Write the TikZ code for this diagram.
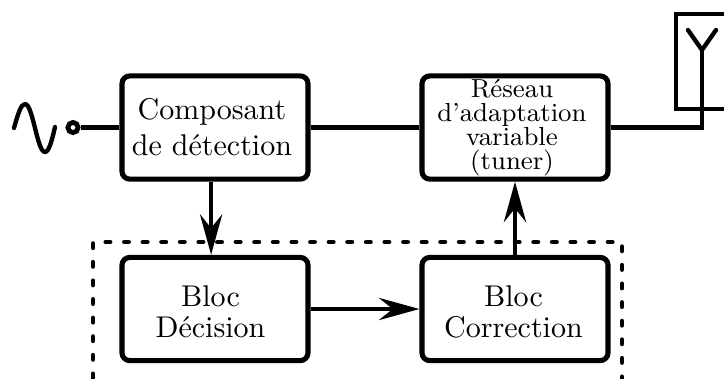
\documentclass[tikz,border=0pt]{standalone}
\usetikzlibrary{arrows.meta}
\newcommand{\recul}[1]{\hspace*{-#1pt}}
\begin{document}
\begin{tikzpicture}[
      x=0.3333pt, y=-0.3333pt,
      line width=1.45pt,
      bloc/.style={draw, line width=1.7pt, rounded corners=2.6pt, align=center, inner sep=0pt,
          minimum width=62pt, minimum height=34.4pt},
      petit/.style={font=\fontsize{8.7}{8}\selectfont},
      serre/.style={font=\fontsize{10}{10.3}\selectfont},
      fleche/.style={-{Stealth[length=13.5pt, width=7.4pt, inset=4.6pt]}},
      port/.style={circle, draw, inner sep=0pt, minimum size=3.4pt, line width=1.6pt}
    ]
    \useasboundingbox (0,0) rectangle (724,378);

    \node[bloc] (composant) at (215,127.5) {\recul{2}Composant\\\recul{2}de détection};
    \node[bloc, petit] (reseau) at (515,127.5) {\recul{2}Réseau\\\recul{2}d'adaptation\\\recul{2}variable\\\recul{2}(tuner)};
    \node[bloc, serre] (decision) at (215,309) {\recul{3}\rule{0pt}{9pt}Bloc\\\recul{3}Décision};
    \node[bloc, serre] (correction) at (515,309) {\recul{1}\rule{0pt}{9pt}Bloc\\\recul{1}Correction};
    \node[port] (entree) at (73,127.5) {};

    \coordinate (coude) at (702,127.5);
    \coordinate (pointe) at (702,50);
    \coordinate (brinG) at (688,30);
    \coordinate (brinD) at (716,30);

    % source
    \draw[line cap=round, line join=round] (14,128) .. controls (18,114) and (21,104) .. (25,104)
    .. controls (33,104) and (37,152) .. (45,152) .. controls (49,152) and (52,140) .. (55,127);

    % liaisons
    \draw (entree) -- (composant);
    \draw (composant) -- (reseau);
    \draw[line join=miter] (reseau) -- (coude) -- (pointe);
    \draw[line join=round, line cap=round] (brinG) -- (pointe) -- (brinD);
    \draw[line join=miter] (724,14) -- (676,14) -- (676,109) -- (724,109);

    % boucle
    \draw[line width=1.6pt, line cap=round, dash pattern=on 1.4pt off 4.8pt] (93,378) -- (93,242) -- (622,242) -- (622,378);

    \draw[fleche] ([xshift=-1.3pt]composant.south) -- ([xshift=-1.3pt]decision.north);
    \draw[fleche] (decision) -- (correction);
    \draw[fleche] (correction) -- (reseau);

  \end{tikzpicture}
\end{document}
